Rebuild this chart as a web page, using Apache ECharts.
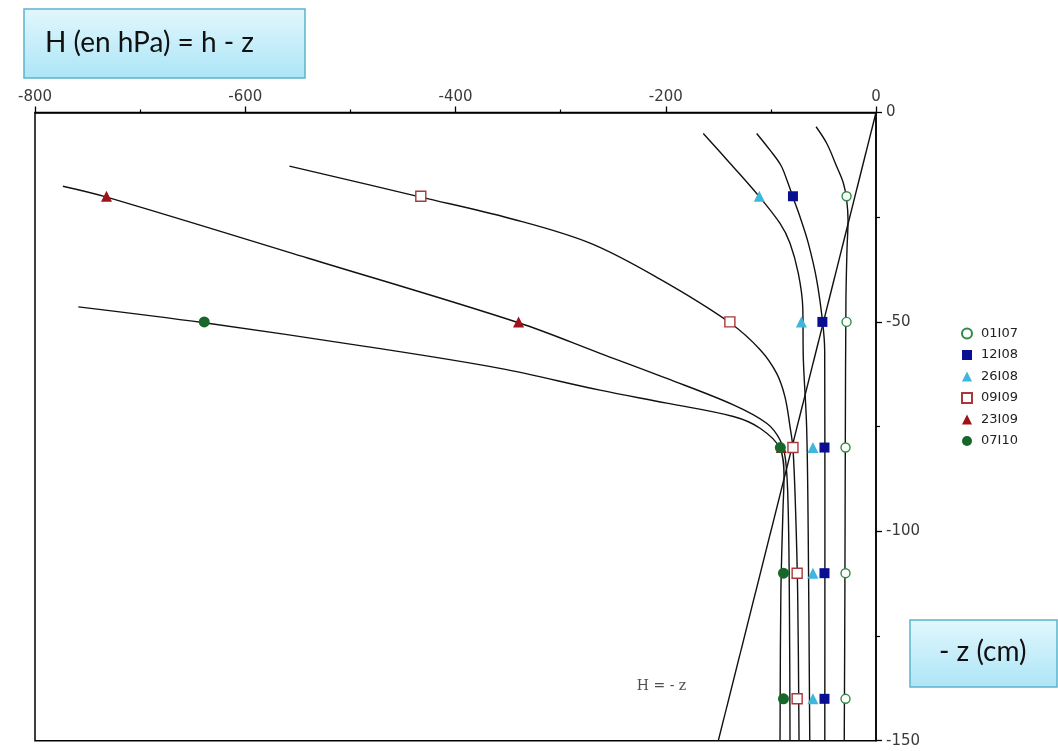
<!DOCTYPE html>
<html>
<head>
<meta charset="utf-8">
<script src="https://cdn.jsdelivr.net/npm/echarts@6/dist/echarts.min.js"></script>
<style>
  html, body { margin: 0; padding: 0; background: #fff; }
  #chart { width: 1058px; height: 751px; }
</style>
</head>
<body>
<div id="chart"></div>
<script>
// Measurement dates (legend entries)
const dates = ['01I07', '12I08', '26I08', '09I09', '23I09', '07I10'];

// Depths of the measurement points, -z in cm
const depths = [-20, -50, -80, -110, -140];

// Measured H (hPa) at each depth, one array per date
const h0107 = [-28, -28, -29, -29, -29];
const h1208 = [-79, -51, -49, -49, -49];
const h2608 = [-111, -71, -60, -60, -60];
const h0909 = [-433, -139, -79, -75, -75];
const h2309 = [-732, -340, -90, null, null];
const h0710 = [null, -639, -91, -88, -88];

// Profile curves drawn through each date's measurements: [H, -z]
const c0107 = [[-57, -3.4], [-46.8, -7.4], [-37.4, -12.9], [-31, -16.9], [-27.9, -20.9], [-26.6, -25.7], [-27.6, -32.8], [-28.6, -45], [-29.2, -80], [-29.6, -115], [-30.2, -150]];
const c1208 = [[-113.5, -5], [-100.8, -9], [-90.5, -12.6], [-84.5, -16.3], [-79.2, -20.1], [-72.3, -24.9], [-64.4, -31.2], [-56.4, -40], [-50.7, -50.2], [-48.8, -57], [-48.6, -100], [-48.7, -150]];
const c2608 = [[-164.3, -5], [-138.9, -12.1], [-111, -20.1], [-91.3, -26.5], [-81.8, -31.2], [-73.9, -38.4], [-69.7, -46.4], [-69.1, -59], [-66, -75], [-64.5, -100], [-63, -150]];
const c0909 = [[-558, -12.8], [-433, -20.2], [-348, -25.3], [-272, -31.2], [-205.5, -39.8], [-139, -50.2], [-110, -56.7], [-94.5, -62.3], [-86.6, -67.9], [-81.8, -75], [-79, -80.2], [-76.5, -95], [-74.5, -115], [-73.2, -150]];
const c2309 = [[-773.5, -17.6], [-731.8, -20.2], [-540, -34.8], [-340, -50.2], [-262.5, -57.5], [-199, -63.5], [-135.7, -69.8], [-104, -74.2], [-91.3, -78.2], [-86, -83], [-83.5, -95], [-82.3, -120], [-81.8, -150]];
const c0710 = [[-758.8, -46.4], [-639, -50.2], [-484.5, -55.9], [-357.7, -61.1], [-262.5, -66.3], [-199, -69.4], [-135.7, -72.6], [-110.3, -75.4], [-91.3, -80.2], [-87.5, -87], [-88.5, -95], [-90.5, -115], [-91.3, -150]];

// Reference line H = -z
const hzLine = [[0, 0], [-150, -150]];
const hzText = 'H = - z';
const hzTextAt = [-204, -137];

// Axis ranges / tick steps
const xRange = [-800, 0, 200];
const yRange = [-150, 0, 50];

const titleText = 'H (en hPa) = h - z';
const yTitleText = '- z (cm)';

const pts = (vals) => vals.map((v, i) => v === null ? null : [v, depths[i]]).filter(Boolean);

const markerStyles = [
  { symbol: 'circle',   size: 9,  item: { color: '#ffffff', borderColor: '#2f8a43', borderWidth: 1.4, opacity: 1 } },
  { symbol: 'rect',     size: 10, item: { color: '#0a0f92', borderColor: '#0a0f92', borderWidth: 0, opacity: 1 } },
  { symbol: 'triangle', size: 11, item: { color: '#3fb6dc', borderColor: '#3fb6dc', borderWidth: 0, opacity: 1 } },
  { symbol: 'rect',     size: 10, item: { color: '#ffffff', borderColor: '#a8383a', borderWidth: 1.4, opacity: 1 } },
  { symbol: 'triangle', size: 11, item: { color: '#a0121a', borderColor: '#a0121a', borderWidth: 0, opacity: 1 } },
  { symbol: 'circle',   size: 11, item: { color: '#17662a', borderColor: '#17662a', borderWidth: 0, opacity: 1 } }
];

const values = [h0107, h1208, h2608, h0909, h2309, h0710];
const curves = [c0107, c1208, c2608, c0909, c2309, c0710];

const series = [];

// profile curves
curves.forEach((c, i) => {
  series.push({
    name: 'courbe ' + dates[i],
    type: 'line',
    data: c,
    smooth: 0.35,
    showSymbol: false,
    silent: true,
    z: 2,
    lineStyle: { color: '#111', width: 1.4 }
  });
});

// H = -z line
series.push({
  name: hzText,
  type: 'line',
  data: hzLine,
  showSymbol: false,
  silent: true,
  z: 2,
  lineStyle: { color: '#111', width: 1.4 }
});

// H = -z label
series.push({
  name: 'note',
  type: 'scatter',
  data: [hzTextAt],
  symbolSize: 0,
  silent: true,
  label: {
    show: true,
    position: 'inside',
    formatter: hzText,
    fontFamily: 'DejaVu Serif',
    fontSize: 14,
    color: '#222'
  }
});

// measured points
values.forEach((v, i) => {
  const m = markerStyles[i];
  series.push({
    name: dates[i],
    type: 'scatter',
    data: pts(v),
    symbol: m.symbol,
    symbolSize: m.size,
    itemStyle: m.item,
    z: 5 + i
  });
});

const chart = echarts.init(document.getElementById('chart'));

chart.setOption({
  backgroundColor: '#ffffff',
  animation: false,
  grid: {
    left: 35, right: 182, top: 112.5, bottom: 10.3,
    show: true, borderColor: '#000', borderWidth: 1.5,
    backgroundColor: 'transparent',
    containLabel: false,
    outerBoundsMode: 'none'
  },
  legend: {
    data: dates,
    orient: 'vertical',
    left: 956,
    top: 322,
    itemWidth: 10,
    itemHeight: 10,
    itemGap: 8.5,
    textStyle: { fontFamily: 'DejaVu Sans', fontSize: 13, color: '#222', lineHeight: 13, padding: [0, 0, 0, 4] },
    selectedMode: false
  },
  xAxis: {
    type: 'value',
    position: 'top',
    min: xRange[0], max: xRange[1], interval: xRange[2],
    axisLine: { show: true, onZero: false, lineStyle: { color: '#000', width: 1.5 } },
    axisTick: { show: true, length: 6, lineStyle: { color: '#000', width: 1.3 } },
    minorTick: { show: true, splitNumber: 2, length: 3, lineStyle: { color: '#000', width: 1.2 } },
    splitLine: { show: false },
    axisLabel: { margin: 8, fontFamily: 'DejaVu Sans', fontSize: 15, color: '#3a3a3a' }
  },
  yAxis: {
    type: 'value',
    position: 'right',
    min: yRange[0], max: yRange[1], interval: yRange[2],
    axisLine: { show: true, onZero: false, lineStyle: { color: '#000', width: 1.5 } },
    axisTick: { show: true, length: 6, lineStyle: { color: '#000', width: 1.3 } },
    minorTick: { show: true, splitNumber: 2, length: 4, lineStyle: { color: '#000', width: 1.2 } },
    splitLine: { show: false },
    axisLabel: { margin: 10, fontFamily: 'DejaVu Sans', fontSize: 15, color: '#3a3a3a' }
  },
  graphic: [
    {
      type: 'rect',
      shape: { x: 24, y: 9, width: 281, height: 69 },
      style: {
        fill: { type: 'linear', x: 0, y: 0, x2: 0, y2: 1,
          colorStops: [{ offset: 0, color: '#e2f7fd' }, { offset: 1, color: '#ace5f6' }] },
        stroke: '#5bb4cc', lineWidth: 1.5
      },
      z: 10
    },
    {
      type: 'text',
      x: 45, y: 43,
      style: { text: titleText, font: '28px Lato', fill: '#111', textVerticalAlign: 'middle', verticalAlign: 'middle' },
      z: 11
    },
    {
      type: 'rect',
      shape: { x: 910, y: 620, width: 147, height: 67 },
      style: {
        fill: { type: 'linear', x: 0, y: 0, x2: 0, y2: 1,
          colorStops: [{ offset: 0, color: '#e2f7fd' }, { offset: 1, color: '#ace5f6' }] },
        stroke: '#5bb4cc', lineWidth: 1.5
      },
      z: 10
    },
    {
      type: 'text',
      x: 939, y: 652,
      style: { text: yTitleText, font: '28px Lato', fill: '#111', textVerticalAlign: 'middle', verticalAlign: 'middle' },
      z: 11
    }
  ],
  series: series
});
</script>
</body>
</html>
